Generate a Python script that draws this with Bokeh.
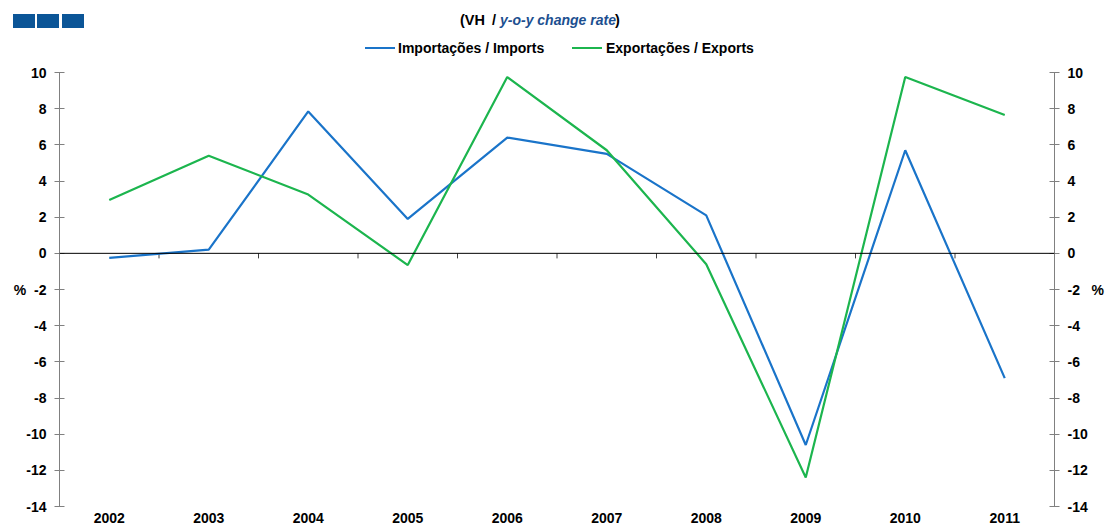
from bokeh.plotting import figure
from bokeh.layouts import column
from bokeh.models import (LinearAxis, FixedTicker, Span, Range1d, ColumnDataSource, Div)
from bokeh.embed import file_html
from bokeh.resources import INLINE

# ---- data ----
years = [2002, 2003, 2004, 2005, 2006, 2007, 2008, 2009, 2010, 2011]
imports = [-0.25, 0.2, 7.85, 1.9, 6.4, 5.5, 2.1, -10.6, 5.7, -6.9]
exports = [2.95, 5.4, 3.25, -0.65, 9.75, 5.7, -0.6, -12.4, 9.75, 7.65]
series_names = ["Importações / Imports", "Exportações / Exports"]
y_ticks = [-14, -12, -10, -8, -6, -4, -2, 0, 2, 4, 6, 8, 10]
y_tick_labels = [str(t) for t in y_ticks]
year_labels = [str(y) for y in years]
title_parts = ["(VH", "/", "y-o-y change rate", ")"]
unit_label = "%"
unit_tick = -2  # the "%" unit sits on the row of this tick

FONT = "Liberation Sans"
BLUE = "#1a74c9"
GREEN = "#1cb54e"
AXIS_GRAY = "#808080"
TITLE_BLUE = "#1c4f90"
SQUARE_BLUE = "#0b5597"
NB = "\u00a0"

W = 1108
HEAD_H = 64

# ---------- header (squares, title, legend) as HTML ----------
def box(left, top, w, hgt, color):
    return (f'<div style="position:absolute;left:{left}px;top:{top}px;width:{w}px;'
            f'height:{hgt}px;background:{color};"></div>')

def txt(left, top, s, size, color="black", italic=False):
    st = "italic" if italic else "normal"
    return (f'<div style="position:absolute;left:{left}px;top:{top}px;font-size:{size}px;'
            f'line-height:16px;white-space:pre;color:{color};font-style:{st};">{s}</div>')

parts = []
for l in (13, 37, 62):
    parts.append(box(l, 14, 22, 14, SQUARE_BLUE))
parts.append(txt(460, 12, title_parts[0], 14.5))
parts.append(txt(492, 12, title_parts[1], 14.5))
parts.append(txt(500, 12, title_parts[2], 14, TITLE_BLUE, italic=True))
parts.append(txt(615, 12, title_parts[3], 14.5))
parts.append(box(365, 47, 30, 2, BLUE))
parts.append(txt(398, 40, series_names[0], 14))
parts.append(box(572, 47, 30, 2, GREEN))
parts.append(txt(606, 40, series_names[1], 14))

header_html = (f'<div style="position:relative;width:{W}px;height:{HEAD_H}px;'
               f"font-family:'{FONT}';font-weight:bold;\">" + "".join(parts) + "</div>")
header = Div(text=header_html, width=W, height=HEAD_H,
             styles={"margin": "0", "padding": "0"})

# ---------- main chart ----------
p = figure(width=W, height=528 - HEAD_H, output_backend="svg", toolbar_location=None,
           title=None,
           x_range=Range1d(years[0] - 0.5, years[-1] + 0.5),
           y_range=Range1d(y_ticks[0], y_ticks[-1]),
           min_border_left=59, min_border_right=54, min_border_top=8,
           min_border_bottom=22)
p.grid.visible = False
p.outline_line_color = None
p.background_fill_color = "white"
p.border_fill_color = "white"

xa = p.xaxis[0]
xa.ticker = FixedTicker(ticks=years)
xa.major_label_overrides = {y: l for y, l in zip(years, year_labels)}
xa.axis_line_color = None
xa.major_tick_line_color = None
xa.minor_tick_line_color = None
xa.major_tick_out = 0
xa.major_tick_in = 0
xa.major_label_standoff = 6
xa.major_label_text_font = FONT
xa.major_label_text_font_style = "bold"
xa.major_label_text_font_size = "14px"
xa.major_label_text_color = "black"

left_labels = {t: l for t, l in zip(y_ticks, y_tick_labels)}
left_labels[unit_tick] = unit_label + NB * 2 + left_labels[unit_tick]
right_labels = {t: l for t, l in zip(y_ticks, y_tick_labels)}
right_labels[unit_tick] = right_labels[unit_tick] + NB * 3 + unit_label

ra = LinearAxis()
p.add_layout(ra, "right")
for ax, overrides in ((p.yaxis[0], left_labels), (ra, right_labels)):
    ax.ticker = FixedTicker(ticks=y_ticks)
    ax.major_label_overrides = overrides
    ax.axis_line_color = AXIS_GRAY
    ax.axis_line_width = 1
    ax.major_tick_line_color = AXIS_GRAY
    ax.major_tick_in = 5
    ax.major_tick_out = 5
    ax.minor_tick_line_color = None
    ax.major_label_standoff = 8
    ax.major_label_text_font = FONT
    ax.major_label_text_font_style = "bold"
    ax.major_label_text_font_size = "14px"
    ax.major_label_text_color = "black"

p.add_layout(Span(location=0, dimension="width", line_color="black", line_width=1))
bounds = [y - 0.5 for y in years] + [years[-1] + 0.5]
p.segment(x0=bounds, y0=[0] * len(bounds), x1=bounds, y1=[-0.28] * len(bounds),
          line_color="#404040", line_width=1)

src = ColumnDataSource(dict(year=years, imp=imports, exp=exports))
p.line("year", "imp", source=src, line_color=BLUE, line_width=2.2)
p.line("year", "exp", source=src, line_color=GREEN, line_width=2.2)

layout = column(header, p, spacing=0)
open("out.html", "w").write(file_html(layout, INLINE))
